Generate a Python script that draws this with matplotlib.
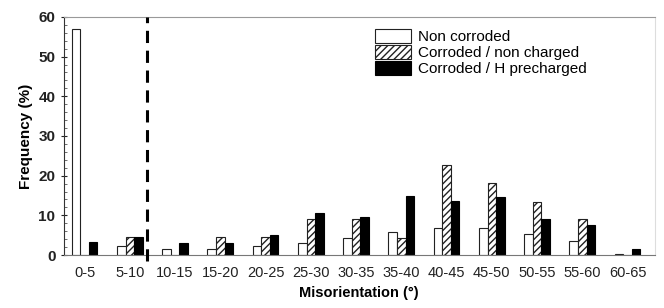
import matplotlib
matplotlib.use('Agg')
import matplotlib.pyplot as plt
import numpy as np

plt.rcParams['font.family'] = ['Liberation Sans', 'DejaVu Sans']
plt.rcParams['hatch.linewidth'] = 1.0

categories = ['0-5', '5-10', '10-15', '15-20', '20-25', '25-30', '30-35',
              '35-40', '40-45', '45-50', '50-55', '55-60', '60-65']
non_corroded = [57.0, 2.2, 1.4, 1.6, 2.2, 3.1, 4.3, 5.8, 6.9, 6.7, 5.2, 3.5, 0.3]
corroded_nc = [0.0, 4.6, 0.0, 4.5, 4.5, 9.0, 9.0, 4.4, 22.7, 18.2, 13.4, 9.0, 0.0]
corroded_h = [3.4, 4.6, 3.1, 3.0, 5.0, 10.5, 9.5, 14.8, 13.6, 14.6, 9.0, 7.5, 1.4]
labels = ['Non corroded', 'Corroded / non charged', 'Corroded / H precharged']
split_x = 1.38  # dashed separator between 5-10 and 10-15

fig = plt.figure(figsize=(6.64, 3.08), dpi=100, facecolor='white')
ax = fig.add_axes([0.096, 0.172, 0.89, 0.773])

x = np.arange(len(categories))
w = 0.19
ax.bar(x - w, non_corroded, w, color='white', edgecolor='#222222',
       linewidth=0.8, label=labels[0])
ax.bar(x, corroded_nc, w, color='white', edgecolor='#222222',
       hatch='/////', linewidth=0.8, label=labels[1])
ax.bar(x + w, corroded_h, w, color='black', edgecolor='black',
       linewidth=0.8, label=labels[2])

ax.plot([split_x, split_x], [-1.5, 60], color='black', lw=2.2,
        linestyle=(0, (4, 2.5)), clip_on=False, zorder=5)

ax.set_xlim(-0.46, 12.6)
ax.set_ylim(0, 60)
ax.set_xticks(x)
ax.set_xticklabels(categories)
ax.set_yticks(np.arange(0, 61, 10))
ax.set_yticks(np.arange(0, 61, 2), minor=True)
ax.tick_params(axis='x', length=0, pad=8, labelsize=10.5, colors='#222222')
ax.tick_params(axis='y', which='major', direction='inout', length=5,
               labelsize=11, colors='#222222')
ax.tick_params(axis='y', which='minor', direction='in', length=2.5,
               color='#555555')
for lab in ax.get_yticklabels():
    lab.set_fontweight('bold')

ax.spines['left'].set_color('#333333')
ax.spines['bottom'].set_color('#777777')
ax.spines['top'].set_color('#999999')
ax.spines['right'].set_color('#dddddd')

ax.set_ylabel('Frequency (%)', fontsize=11, fontweight='bold', labelpad=4)
ax.set_xlabel('Misorientation (°)', fontsize=10.5, fontweight='bold', labelpad=4)

ax.legend(loc='upper right', bbox_to_anchor=(0.905, 1.0), frameon=False,
          fontsize=11, handlelength=2.4, handleheight=1.0,
          handletextpad=0.4, labelspacing=0.05, borderpad=0.3)

fig.savefig('out.png', dpi=100, facecolor='white')
